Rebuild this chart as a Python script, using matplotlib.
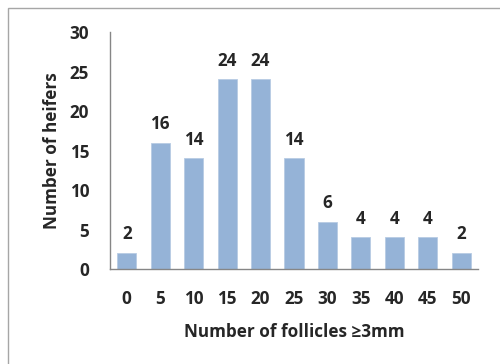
import matplotlib
matplotlib.use("Agg")
import matplotlib.pyplot as plt
from matplotlib.patches import Rectangle

categories = ["0", "5", "10", "15", "20", "25", "30", "35", "40", "45", "50"]
values = [2, 16, 14, 24, 24, 14, 6, 4, 4, 4, 2]
yticks = [0, 5, 10, 15, 20, 25, 30]

plt.rcParams['font.family'] = ['Open Sans', 'DejaVu Sans']
txt = '#262626'
fs = 12.3

fig = plt.figure(figsize=(5.0, 3.64), dpi=100)
ax = fig.add_axes([0.22, 0.261, 0.736, 0.651])

x = list(range(len(categories)))
bars = ax.bar(x, values, width=0.57, color='#95B3D7', edgecolor='#b8cce4', linewidth=0.6)
for xi, v in zip(x, values):
    ax.annotate(str(v), (xi, v), xytext=(0, 7), textcoords='offset points',
                ha='center', va='bottom', fontsize=fs, fontweight='bold', color=txt)

ax.set_xlim(-0.5, len(categories) - 0.5)
ax.set_ylim(0, 30)
ax.set_yticks(yticks)
ax.set_yticklabels([str(t) for t in yticks])
ax.set_xticks(x)
ax.set_xticklabels(categories)
ax.tick_params(axis='both', length=0, labelsize=fs, colors=txt)
ax.tick_params(axis='x', pad=15)
ax.tick_params(axis='y', pad=15)
for lab in ax.get_xticklabels() + ax.get_yticklabels():
    lab.set_fontweight('bold')
for s in ['top', 'right']:
    ax.spines[s].set_visible(False)
for s in ['left', 'bottom']:
    ax.spines[s].set_color('#868686')
    ax.spines[s].set_linewidth(1.0)

ax.set_xlabel('Number of follicles \u22653mm', fontsize=fs, fontweight='bold', color=txt, labelpad=11)
ax.set_ylabel('Number of heifers', fontsize=fs, fontweight='bold', color=txt, labelpad=6)

fig.patches.append(Rectangle((8/500, -0.1), 1.2, 1 - 8/364 + 0.1, transform=fig.transFigure,
                             fill=False, edgecolor='#a6a6a6', linewidth=1.0, clip_on=False))

fig.savefig('out.png', dpi=100)
